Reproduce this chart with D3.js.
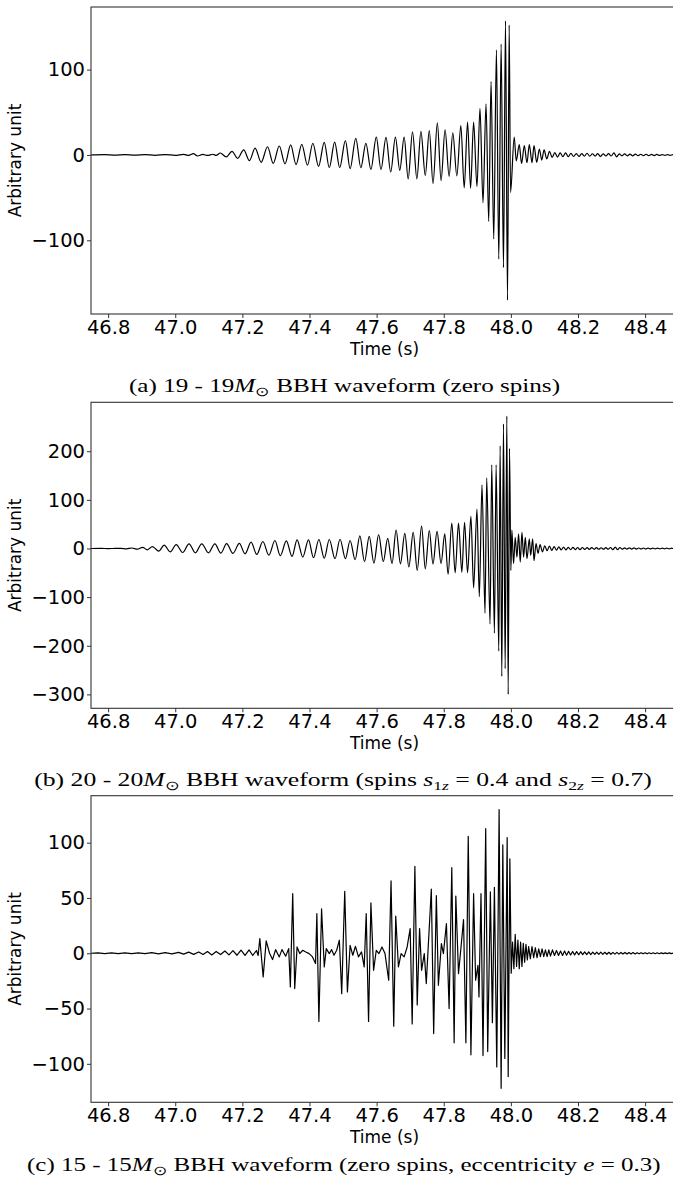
<!DOCTYPE html>
<html>
<head>
<meta charset="utf-8">
<script src="https://cdn.jsdelivr.net/npm/d3@7"></script>
<style>
  body { margin: 0; background: #fff; }
  svg { display: block; }
</style>
</head>
<body>
<div id="chart"></div>
<script>
// Tick labels shared by the three panels
const xTicks = [46.8, 47.0, 47.2, 47.4, 47.6, 47.8, 48.0, 48.2, 48.4];
const yTicksA = [-100, 0, 100];
const yTicksB = [-300, -200, -100, 0, 100, 200];
const yTicksC = [-100, -50, 0, 50, 100];
const timeSpan = [46.749, 48.498];

// Waveform extrema [time (s), amplitude]
const waveA = [
  [46.749,0],[46.79,0.3],[46.82,-0.3],[46.85,0.3],[46.88,-0.3],[46.91,0.4],[46.94,-0.4],[46.97,0.5],
  [47.0,-0.5],[47.025,0.7],[47.04,-0.6],[47.054,1.5],[47.066,-1.2],[47.082,0.6],[47.097,-0.6],[47.112,0.8],
  [47.122,-0.6],[47.134,2.3],[47.152,-2.3],[47.169,4.3],[47.186,-4],[47.204,6],[47.221,-6.6],[47.238,8],
  [47.256,-8.6],[47.275,9.6],[47.292,-9.8],[47.31,10.5],[47.327,-10.5],[47.344,11.8],[47.36,-11.3],[47.377,12.5],
  [47.394,-12],[47.41,13.7],[47.427,-13.3],[47.444,14.8],[47.459,-15],[47.475,15],[47.49,-15],[47.507,16.8],
  [47.521,-16],[47.538,19.5],[47.553,-15],[47.568,13.5],[47.583,-17],[47.599,21],[47.613,-17],[47.628,20.5],
  [47.642,-20],[47.656,21],[47.669,-18],[47.682,21],[47.694,-28],[47.707,27],[47.72,-28],[47.732,27.7],
  [47.745,-24],[47.757,28.5],[47.768,-33.5],[47.781,37.5],[47.792,-30],[47.804,29.5],[47.816,-25],[47.827,26],
  [47.839,-24.5],[47.851,34.5],[47.861,-38.5],[47.871,38.5],[47.88,-39],[47.889,38.5],[47.899,-37],[47.908,54.5],
  [47.917,-56],[47.926,60],[47.934,-78],[47.941,86],[47.949,-98.5],[47.957,123],[47.964,-122],[47.971,130],
  [47.978,-132],[47.984,157],[47.99,-170],[47.995,152],[47.999,-44],[48.01,21],[48.016,-7],[48.025,12],
  [48.032,-10],[48.04,11],[48.048,-9],[48.055,12],[48.063,-9],[48.069,11],[48.077,-8.6],[48.085,7],
  [48.092,-6],[48.099,6],[48.107,-4.7],[48.115,4.3],[48.123,-3],[48.131,2.8],[48.139,-2.5],[48.147,2.4],
  [48.155,-2],[48.163,2.4],[48.171,-2],[48.179,1.8],[48.187,-1.8],[48.195,1.6],[48.203,-1.8],[48.211,1.5],
  [48.219,-1.4],[48.227,2],[48.235,-1.5],[48.243,1.4],[48.251,-1.4],[48.259,1.5],[48.267,-1.8],[48.275,1.2],
  [48.283,-1.2],[48.291,1.5],[48.299,-1.2],[48.307,2.4],[48.315,-2.2],[48.323,1.2],[48.331,-1],[48.339,1.2],
  [48.347,-1],[48.355,1],[48.363,-1],[48.371,1],[48.379,-0.8],[48.387,0.8],[48.395,-0.8],[48.403,0.8],
  [48.411,-0.8],[48.419,0.7],[48.427,-0.7],[48.435,0.6],[48.443,-0.6],[48.451,0.5],[48.459,-0.5],[48.467,0.5],
  [48.475,-0.5],[48.483,0.4],[48.491,-0.4],[48.5,0]
];

const waveB = [
  [46.749,0],[46.78,0.1],[46.80,-0.2],[46.82,0.2],[46.838,0.4],[46.855,-0.6],[46.871,1],[46.887,-1.5],
  [46.903,2.2],[46.917,-2.7],[46.932,4],[46.951,-5.5],[46.967,6.8],[46.985,-6.8],[47.003,8],[47.022,-8.2],
  [47.041,9.6],[47.06,-9],[47.079,9.6],[47.099,-9],[47.118,9.6],[47.136,-9.6],[47.153,10],[47.172,-10],
  [47.191,10.5],[47.208,-11],[47.226,13],[47.243,-12.3],[47.261,14.4],[47.279,-13.7],[47.297,16.4],[47.313,-15],
  [47.331,15.5],[47.348,-16.4],[47.363,17.8],[47.38,-17.8],[47.397,17.8],[47.412,-19],[47.428,18.5],[47.444,-20],
  [47.459,18.5],[47.476,-21],[47.491,19],[47.507,-21],[47.521,16.4],[47.536,-23],[47.55,26],[47.564,-27],
  [47.578,25],[47.592,-30],[47.606,28.7],[47.62,-27],[47.633,21],[47.646,-31],[47.658,38],[47.671,-31.5],
  [47.684,31],[47.696,-38],[47.709,33],[47.721,-45],[47.734,46],[47.745,-42],[47.757,37],[47.768,-32],
  [47.78,35],[47.792,-31],[47.803,30],[47.813,-53],[47.824,52],[47.834,-50],[47.844,52],[47.854,-49],
  [47.862,54],[47.871,-50],[47.881,66],[47.889,-81],[47.899,81],[47.906,-99],[47.914,131],[47.923,-133],
  [47.928,145],[47.938,-155],[47.943,172],[47.951,-174],[47.956,172],[47.964,-211],[47.968,211],[47.973,-263],
  [47.978,256],[47.983,-247],[47.988,272],[47.992,-300],[47.996,206],[48.0,-45],[48.003,38],[48.008,-31],
  [48.013,23],[48.018,-18],[48.023,30],[48.028,-28],[48.033,33],[48.038,-18],[48.043,23],[48.048,-21],
  [48.055,20],[48.059,-14],[48.065,20],[48.069,-25],[48.075,10],[48.081,-10],[48.087,8],[48.094,-7],
  [48.101,5.5],[48.108,-4.5],[48.115,5],[48.122,-4],[48.129,4],[48.136,-3.5],[48.143,3.5],[48.15,-3],
  [48.157,3],[48.164,-3],[48.171,2.5],[48.178,-2.5],[48.185,2.5],[48.192,-2.2],[48.199,2],[48.206,-2.2],
  [48.213,2],[48.22,-2],[48.227,1.8],[48.234,-1.8],[48.241,1.8],[48.248,-1.6],[48.255,1.6],[48.262,-1.6],
  [48.269,1.5],[48.276,-1.5],[48.283,1.6],[48.29,-1.5],[48.297,2],[48.304,-2.5],[48.311,3],[48.318,-2.5],
  [48.325,2],[48.332,-1.5],[48.339,1.4],[48.346,-1.3],[48.353,1.2],[48.36,-1.2],[48.367,1.2],[48.374,-1.1],
  [48.381,1],[48.388,-1],[48.395,1],[48.402,-1],[48.409,0.9],[48.416,-0.9],[48.423,0.9],[48.43,-0.8],
  [48.437,0.8],[48.444,-0.8],[48.451,0.7],[48.458,-0.7],[48.465,0.7],[48.472,-0.6],[48.479,0.6],[48.486,-0.6],
  [48.493,0.5],[48.5,0]
];

const waveC = [
  [46.749,0],[46.77,0.3],[46.79,-0.3],[46.81,0.3],[46.83,-0.3],[46.85,0.4],[46.87,-0.4],[46.89,0.4],
  [46.91,-0.4],[46.93,0.5],[46.95,-0.5],[46.97,0.6],[46.99,-0.6],[47.01,0.8],[47.025,-0.8],[47.04,1],
  [47.055,-1],[47.07,1.2],[47.083,-1.2],[47.096,1.5],[47.109,-1.5],[47.122,1.5],[47.135,-1.2],[47.148,2],
  [47.16,-1.5],[47.172,2.4],[47.184,-1.8],[47.196,2.8],[47.208,-2],[47.22,3],[47.231,-2],[47.242,2.5],
  [47.247,-2],[47.252,13.3],[47.262,-21.4],[47.271,11.2],[47.281,0],[47.29,-5.7],[47.299,3.3],[47.31,-3.3],
  [47.318,3.3],[47.329,-2.7],[47.338,4.2],[47.343,-30.4],[47.35,53.9],[47.356,-31.9],[47.363,5.7],[47.371,-0.3],
  [47.38,2.7],[47.389,1.2],[47.399,-0.3],[47.409,-3.3],[47.418,-9.3],[47.422,35.8],[47.428,-61.7],[47.436,40.1],
  [47.444,-12.4],[47.45,4.2],[47.459,-0.3],[47.466,3.3],[47.473,-1.8],[47.481,2.7],[47.489,11.8],[47.496,-36.5],
  [47.505,56.1],[47.513,-35],[47.521,7.2],[47.529,-1.8],[47.537,6.3],[47.546,-3.3],[47.555,1.2],[47.563,-12.4],
  [47.569,35.8],[47.576,-61.7],[47.583,45.5],[47.591,-15.4],[47.599,2.7],[47.607,-0.3],[47.616,5.7],[47.625,-0.3],
  [47.636,-24.4],[47.643,65.4],[47.651,-66],[47.657,33.5],[47.665,-12.4],[47.673,-0.3],[47.682,-3.3],[47.691,5.7],
  [47.7,22.3],[47.706,-63.9],[47.714,78.6],[47.721,-46.7],[47.728,22.3],[47.734,-15.4],[47.742,-0.3],[47.748,-27.4],
  [47.763,58.1],[47.77,-72.6],[47.778,52.1],[47.784,-29],[47.793,8.7],[47.799,-0.3],[47.808,26.8],[47.816,-50],
  [47.824,77.4],[47.831,-81],[47.836,51.8],[47.844,-18.4],[47.852,7.2],[47.859,30.4],[47.866,-81],[47.873,105.8],
  [47.881,-91.9],[47.889,53.9],[47.895,-24.4],[47.902,-10.9],[47.905,-39.5],[47.911,53.9],[47.917,-92.5],[47.925,112.7],
  [47.931,-88.9],[47.939,55.5],[47.945,-62.8],[47.951,59.7],[47.958,-102.8],[47.965,129.9],[47.971,-122.2],[47.976,98.1],
  [47.982,-95.2],[47.989,104.6],[47.992,-111.5],[47.997,85.5],[48.001,-18],[48.005,10],[48.009,-14],[48.013,17],
  [48.017,-12],[48.021,12],[48.025,-14],[48.029,10],[48.033,-12],[48.037,9],[48.041,-8],[48.045,8],
  [48.049,-6],[48.053,6],[48.058,-5],[48.063,6],[48.068,-4],[48.073,5],[48.078,-4],[48.083,4],
  [48.088,-3],[48.093,4],[48.098,-3],[48.103,3],[48.108,-3],[48.113,3],[48.118,-2.5],[48.124,3],
  [48.13,-2],[48.136,2.5],[48.142,-2],[48.148,2],[48.154,-2],[48.16,2],[48.166,-1.8],[48.172,1.8],
  [48.178,-1.6],[48.184,1.6],[48.19,-1.5],[48.196,1.5],[48.202,-1.4],[48.208,1.4],[48.214,-1.3],[48.22,1.3],
  [48.226,-1.2],[48.232,1.2],[48.238,-1.2],[48.244,1.1],[48.25,-1.1],[48.256,1],[48.262,-1],[48.268,1],
  [48.274,-1],[48.28,0.9],[48.286,-0.9],[48.292,0.9],[48.298,-0.9],[48.304,0.8],[48.31,-0.8],[48.316,0.8],
  [48.322,-0.8],[48.328,0.7],[48.334,-0.7],[48.34,0.7],[48.346,-0.7],[48.352,0.6],[48.358,-0.6],[48.364,0.6],
  [48.37,-0.6],[48.376,0.5],[48.382,-0.5],[48.388,0.5],[48.394,-0.5],[48.4,0.5],[48.406,-0.5],[48.412,0.4],
  [48.418,-0.4],[48.424,0.4],[48.43,-0.4],[48.436,0.4],[48.442,-0.4],[48.448,0.3],[48.454,-0.3],[48.46,0.3],
  [48.466,-0.3],[48.472,0.3],[48.478,-0.3],[48.484,0.3],[48.49,-0.3],[48.5,0]
];

// Caption pieces: [text, style] where style is "", "i", "sub" or "subi"
const captionA = [["(a) 19 - 19",""],["M","i"],["\u2299","sub"],[" BBH waveform (zero spins)",""]];
const captionB = [["(b) 20 - 20",""],["M","i"],["\u2299","sub"],[" BBH waveform (spins ",""],["s","i"],["1","sub"],["z","subi"],
  [" = 0.4 and ",""],["s","i"],["2","sub"],["z","subi"],[" = 0.7)",""]];
const captionC = [["(c) 15 - 15",""],["M","i"],["\u2299","sub"],[" BBH waveform (zero spins, eccentricity ",""],["e","i"],[" = 0.3)",""]];

const width = 673, height = 1186;
const left = 91, right = 678;

const panels = [
  {wave: waveA, ticks: yTicksA, top: 7, bottom: 314, curve: d3.curveMonotoneX,
   caption: captionA, captionY: 392, captionX: 344.5, captionW: 431},
  {wave: waveB, ticks: yTicksB, top: 402.3, bottom: 708.3, curve: d3.curveMonotoneX,
   caption: captionB, captionY: 786, captionX: 343, captionW: 618},
  {wave: waveC, ticks: yTicksC, top: 795.7, bottom: 1102.3, curve: d3.curveLinear,
   caption: captionC, captionY: 1171, captionX: 343.8, captionW: 634}
];

const svg = d3.select("#chart")
  .append("svg")
  .attr("width", width)
  .attr("height", height)
  .attr("viewBox", [0, 0, width, height]);

const x = d3.scaleLinear().domain(timeSpan).range([left, right]);

panels.forEach((p, i) => {
  // matplotlib style: 5% padding around the data
  const [lo, hi] = d3.extent(p.wave, d => d[1]);
  const pad = (hi - lo) * 0.05;
  const y = d3.scaleLinear().domain([lo - pad, hi + pad]).range([p.bottom, p.top]);

  const g = svg.append("g");

  g.append("clipPath").attr("id", "clip" + i)
    .append("rect")
      .attr("x", left).attr("y", p.top)
      .attr("width", right - left).attr("height", p.bottom - p.top);

  const line = d3.line()
    .curve(p.curve)
    .x(d => x(d[0]))
    .y(d => y(d[1]));

  g.append("path")
    .datum(p.wave)
    .attr("clip-path", `url(#clip${i})`)
    .attr("d", line)
    .attr("fill", "none")
    .attr("stroke", "#000")
    .attr("stroke-width", 1.2)
    .attr("stroke-linejoin", "round");

  // Frame
  g.append("rect")
    .attr("x", left).attr("y", p.top)
    .attr("width", right - left).attr("height", p.bottom - p.top)
    .attr("fill", "none")
    .attr("stroke", "#333")
    .attr("stroke-width", 1.1);

  // Axes
  const xAxis = g.append("g")
    .attr("transform", `translate(0,${p.bottom})`)
    .call(d3.axisBottom(x).tickValues(xTicks).tickFormat(d3.format(".1f")).tickSize(4).tickPadding(2))
    .call(a => a.select(".domain").remove());

  const yAxis = g.append("g")
    .attr("transform", `translate(${left},0)`)
    .call(d3.axisLeft(y).tickValues(p.ticks).tickFormat(d3.format("d")).tickSize(4).tickPadding(2))
    .call(a => a.select(".domain").remove());

  [xAxis, yAxis].forEach(a => {
    a.attr("font-family", "'DejaVu Sans', sans-serif").attr("font-size", 19.5);
    a.selectAll("line").attr("stroke", "#333");
    a.selectAll("text").attr("fill", "#000");
  });

  // Axis titles
  g.append("text")
    .attr("x", (left + right) / 2)
    .attr("y", p.bottom + 41)
    .attr("text-anchor", "middle")
    .style("font-family", "'DejaVu Sans', sans-serif")
    .style("font-size", "17px")
    .text("Time (s)");

  const cy = (p.top + p.bottom) / 2;
  g.append("text")
    .attr("transform", `translate(21,${cy}) rotate(-90)`)
    .attr("text-anchor", "middle")
    .style("font-family", "'DejaVu Sans', sans-serif")
    .style("font-size", "17px")
    .text("Arbitrary unit");

  // Caption below each panel (the reference typesetting is a bit wider than the font)
  const cap = g.append("text")
    .attr("text-anchor", "middle")
    .style("font-family", "'Liberation Serif', 'Times New Roman', serif")
    .style("font-size", "19px");

  let shifted = false;
  p.caption.forEach(([txt, style]) => {
    const sub = style === "sub" || style === "subi";
    const ts = cap.append("tspan").text(txt);
    if (style === "i" || style === "subi") ts.style("font-style", "italic");
    if (sub) ts.style("font-size", "13px");
    if (sub && !shifted) { ts.attr("dy", 4); shifted = true; }
    if (!sub && shifted) { ts.attr("dy", -4); shifted = false; }
  });

  const bw = cap.node().getBBox().width;
  cap.attr("transform", `translate(${p.captionX},${p.captionY}) scale(${p.captionW / bw},1)`);
});
</script>
</body>
</html>
